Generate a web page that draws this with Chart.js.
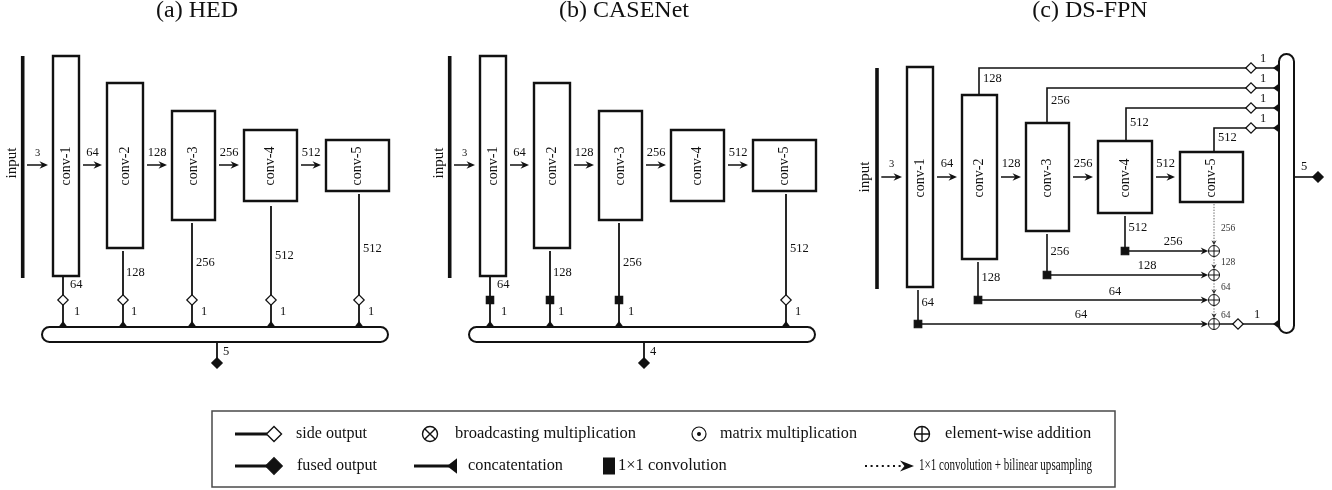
<!DOCTYPE html>
<html><head><meta charset="utf-8">
<script src="https://cdn.jsdelivr.net/npm/chart.js@4.4.1/dist/chart.umd.min.js"></script>
<style>html,body{margin:0;padding:0;background:#fff;overflow:hidden}canvas{display:block}</style>
</head><body>
<canvas id="c" width="1332" height="490"></canvas>
<script>
/* ================= DATA ================= */
const titles = ['(a) HED', '(b) CASENet', '(c) DS-FPN'];
const inputLabel = 'input';
const layerNames = ['conv-1', 'conv-2', 'conv-3', 'conv-4', 'conv-5'];
const inputChannels = 3;
const convChannels = [64, 128, 256, 512, 512];
const sideOutChannels = [1, 1, 1, 1, 1];
// HED
const hedSideLayers = [0, 1, 2, 3, 4];
const hedSideKinds = ['side', 'side', 'side', 'side', 'side'];
const hedSideChannels = [64, 128, 256, 512, 512];
const hedFusedChannels = 5;
// CASENet
const caseSideLayers = [0, 1, 2, 4];
const caseSideKinds = ['conv', 'conv', 'conv', 'side'];
const caseSideChannels = [64, 128, 256, 512];
const caseFusedChannels = 4;
// DS-FPN
const fpnTopChannels = [128, 256, 512, 512];     // conv-2 .. conv-5 side branches
const fpnLateralIn = [64, 128, 256, 512];        // conv-1 .. conv-4 lateral inputs
const fpnLateralOut = [64, 64, 128, 256];        // after 1x1 conv
const fpnUpChannels = [256, 128, 64, 64];        // top-down upsampling path
const fpnBottomOut = 1;
const fpnFusedChannels = 5;
// legend
const legendLabels = ['side output', 'broadcasting multiplication', 'matrix multiplication', 'element-wise addition',
                      'fused output', 'concatentation', '1×1 convolution', '1×1 convolution + bilinear upsampling'];

/* ================= LAYOUT ================= */
const W = 1332, H = 490;
const FONT = '"Liberation Serif","Times New Roman",serif';
const INK = '#111';

const HED = {
  offsets: [0, 427],
  titleX: 197, titleY: 17, titleSize: 24,
  inputX: 22.7, inputY: [56, 278], inputTextX: 12,
  arrowY: 165, arrowLabelY: 153,
  boxes: [[53, 56, 79, 276], [107, 83, 143, 248], [172, 111, 215, 220], [244, 130, 297, 201], [326, 140, 389, 191]],
  sideX: [63, 123, 192, 271, 359],
  sideTop: [276, 251, 223, 206, 194],
  sideLabelY: [285, 273, 263, 256, 249],
  sideLabelDX: [7, 3, 4, 4, 4],
  markerY: 300,
  oneDX: [14, 11, 12, 12, 12], oneY: 312,
  bar: [42, 327, 388, 342],
  outX: 217, outY: 363, outLabelDX: 6, outLabelY: 352
};

const FPN = {
  titleX: 1090, titleY: 17,
  inputX: 877, inputY: [68, 289], inputTextX: 865,
  arrowY: 177, arrowLabelY: 164,
  boxes: [[907, 67, 933, 287], [962, 95, 997, 259], [1026, 123, 1069, 231], [1098, 141, 1152, 213], [1180, 152, 1243, 202]],
  topX: [979, 1047, 1126, 1214],
  topY: [68, 88, 108, 128],
  topLabelY: [79, 101, 123, 138],
  diamondX: 1251, oneX: 1263, oneDY: -9,
  bar: [1279, 54, 1294, 333],
  botX: [918, 978, 1047, 1125],
  botY: [324, 300, 275, 251],
  botLabelY: [303, 278, 252, 228],
  latLabelX: [1081, 1115, 1147, 1173],
  latLabelY: [315, 292, 266, 242],
  plusX: 1214, plusR: 5.5,
  upLabelX: 1221, upLabelY: [228, 262, 287, 315],
  fuseDiamondX: 1238, fuseOneX: 1257, fuseOneY: 315,
  outX: [1294, 1318], outLabelX: 1304, outLabelY: 167
};

const LEG = {
  box: [212, 411, 1115, 487],
  rows: [434, 466],
  textX: [296, 455, 720, 945, 297, 468, 618, 919],
  textW: [71, 182, 137, 147, 80, 95, 117, 173],
  textRow: [0, 0, 0, 0, 1, 1, 1, 1],
  lineX: [235, 267], diamondX: 274,
  otimesX: 430, odotX: 699, oplusX: 922,
  concatX: [414, 457], squareX: [603, 615], squareY: [457.5, 474.5],
  dotX: [865, 902], dotHeadX: 914
};

/* ================= BUILD ================= */
const wires = [], heads = [], concats = [], texts = [], boxes = [], bars = [];
const openDiamonds = [], fullDiamonds = [], squares = [], circles = [], crosses = [], crossRots = [], dots = [];

function T(s, x, y, size, align, extra) { texts.push(Object.assign({ s: String(s), x, y, size, align: align || 'center' }, extra || {})); }

function buildHedLike(dx, title, sideLayers, sideKinds, sideCh, fused) {
  const g = HED;
  T(title, g.titleX + dx, g.titleY, g.titleSize, 'center', { base: 'alphabetic' });
  wires.push({ pts: [[g.inputX + dx, g.inputY[0]], [g.inputX + dx, g.inputY[1]]], w: 3.6 });
  T(inputLabel, g.inputTextX + dx, g.arrowY - 2, 15, 'center', { rot: true });
  g.boxes.forEach((b, i) => {
    boxes.push([b[0] + dx, b[1], b[2] + dx, b[3]]);
    T(layerNames[i], (b[0] + b[2]) / 2 + dx, g.arrowY + 1, 14, 'center', { rot: true });
    const x0 = (i === 0 ? g.inputX + 4.3 : g.boxes[i - 1][2] + 4) + dx;
    const x1 = b[0] - 5 + dx;
    wires.push({ pts: [[x0, g.arrowY], [x1 - 4, g.arrowY]], w: 1.5 });
    heads.push({ x: x1, y: g.arrowY, dx: 1, dy: 0, len: 8.5, half: 3.8 });
    const ch = i === 0 ? inputChannels : convChannels[i - 1];
    T(ch, (x0 + x1) / 2, g.arrowLabelY, i === 0 ? 10.5 : 12.5);
  });
  sideLayers.forEach((li, k) => {
    const x = g.sideX[li] + dx;
    wires.push({ pts: [[x, g.sideTop[li]], [x, g.bar[1]]], w: 1.8 });
    if (sideKinds[k] === 'conv') squares.push({ x, y: g.markerY, r: 5.2 });
    else openDiamonds.push({ x, y: g.markerY, r: 5.2 });
    T(sideCh[k], x + g.sideLabelDX[li], g.sideLabelY[li], 12.5, 'left');
    T(sideOutChannels[li], x + g.oneDX[li], g.oneY, 12.5);
    concats.push({ x, y: g.bar[1], dx: 0, dy: -1, depth: 6, half: 4.5 });
  });
  bars.push([g.bar[0] + dx, g.bar[1], g.bar[2] + dx, g.bar[3]]);
  wires.push({ pts: [[g.outX + dx, g.bar[3]], [g.outX + dx, g.outY]], w: 1.8 });
  fullDiamonds.push({ x: g.outX + dx, y: g.outY, r: 5.2 });
  T(fused, g.outX + dx + g.outLabelDX, g.outLabelY, 12.5, 'left');
}

buildHedLike(HED.offsets[0], titles[0], hedSideLayers, hedSideKinds, hedSideChannels, hedFusedChannels);
buildHedLike(HED.offsets[1], titles[1], caseSideLayers, caseSideKinds, caseSideChannels, caseFusedChannels);

(function buildFpn() {
  const g = FPN;
  T(titles[2], g.titleX, g.titleY, 24, 'center', { base: 'alphabetic' });
  wires.push({ pts: [[g.inputX, g.inputY[0]], [g.inputX, g.inputY[1]]], w: 3.6 });
  T(inputLabel, g.inputTextX, g.arrowY, 15, 'center', { rot: true });
  g.boxes.forEach((b, i) => {
    boxes.push(b);
    T(layerNames[i], (b[0] + b[2]) / 2, g.arrowY + 1, 14, 'center', { rot: true });
    const x0 = i === 0 ? g.inputX + 4.3 : g.boxes[i - 1][2] + 4;
    const x1 = b[0] - 5;
    wires.push({ pts: [[x0, g.arrowY], [x1 - 4, g.arrowY]], w: 1.5 });
    heads.push({ x: x1, y: g.arrowY, dx: 1, dy: 0, len: 8.5, half: 3.8 });
    const ch = i === 0 ? inputChannels : convChannels[i - 1];
    T(ch, (x0 + x1) / 2, g.arrowLabelY, i === 0 ? 10.5 : 12.5);
  });
  // top side-output branches (conv-2 .. conv-5)
  g.topX.forEach((x, k) => {
    const b = g.boxes[k + 1], y = g.topY[k];
    wires.push({ pts: [[x, b[1]], [x, y], [g.bar[0], y]], w: 1.6 });
    openDiamonds.push({ x: g.diamondX, y, r: 5.2 });
    T(fpnTopChannels[k], x + 4, g.topLabelY[k], 12.5, 'left');
    T(sideOutChannels[k + 1], g.oneX, y + g.oneDY, 12.5);
    concats.push({ x: g.bar[0], y, dx: -1, dy: 0, depth: 6, half: 4.5 });
  });
  // lateral 1x1 conv branches (conv-1 .. conv-4)
  g.botX.forEach((x, k) => {
    const b = g.boxes[k], y = g.botY[k];
    const tip = g.plusX - g.plusR - 0.3;
    wires.push({ pts: [[x, b[3] + 3], [x, y], [tip - 4, y]], w: 1.6 });
    heads.push({ x: tip, y, dx: 1, dy: 0, len: 7.5, half: 3.4 });
    squares.push({ x, y, r: 5.3 });
    T(fpnLateralIn[k], x + 3.5, g.botLabelY[k], 12.5, 'left');
    T(fpnLateralOut[k], g.latLabelX[k], g.latLabelY[k], 12.5);
    circles.push({ x: g.plusX, y, r: g.plusR, bw: 1 });
    crosses.push({ x: g.plusX, y, r: g.plusR, bw: 1 });
  });
  // top-down dotted upsampling path
  const plusYs = g.botY.slice().sort((a, b) => a - b);
  let yStart = g.boxes[4][3] + 2;
  plusYs.forEach((py, i) => {
    const tip = py - g.plusR - 0.3;
    wires.push({ pts: [[g.plusX, yStart], [g.plusX, tip - 3]], w: 1, dash: [1.4, 1.4], color: '#666' });
    heads.push({ x: g.plusX, y: tip, dx: 0, dy: 1, len: 5, half: 2.6, color: '#333' });
    T(fpnUpChannels[i], g.upLabelX, g.upLabelY[i], 9.5, 'left', { color: '#333' });
    yStart = py + g.plusR;
  });
  // fused bottom
  const lastY = plusYs[plusYs.length - 1];
  wires.push({ pts: [[g.plusX + g.plusR, lastY], [g.bar[0], lastY]], w: 1.6 });
  openDiamonds.push({ x: g.fuseDiamondX, y: lastY, r: 5.2 });
  T(fpnBottomOut, g.fuseOneX, g.fuseOneY, 12.5);
  concats.push({ x: g.bar[0], y: lastY, dx: -1, dy: 0, depth: 6, half: 4.5 });
  bars.push(g.bar);
  wires.push({ pts: [[g.outX[0], g.arrowY], [g.outX[1], g.arrowY]], w: 1.6 });
  fullDiamonds.push({ x: g.outX[1], y: g.arrowY, r: 5.2 });
  T(fpnFusedChannels, g.outLabelX, g.outLabelY, 12.5);
})();

(function buildLegend() {
  const g = LEG, r0 = g.rows[0], r1 = g.rows[1];
  legendLabels.forEach((s, i) => T(s, g.textX[i], g.rows[g.textRow[i]], 16.5, 'left', { maxW: g.textW[i] }));
  wires.push({ pts: [[g.lineX[0], r0], [g.lineX[1], r0]], w: 3 });
  openDiamonds.push({ x: g.diamondX, y: r0, r: 7.5, bw: 1.4 });
  wires.push({ pts: [[g.lineX[0], r1], [g.lineX[1], r1]], w: 3 });
  fullDiamonds.push({ x: g.diamondX, y: r1, r: 8.3 });
  circles.push({ x: g.otimesX, y: r0, r: 7.5, bw: 1.4 });
  crossRots.push({ x: g.otimesX, y: r0, r: 7.5, bw: 1.4 });
  circles.push({ x: g.odotX, y: r0, r: 7, bw: 1.2 });
  dots.push({ x: g.odotX, y: r0, r: 1.4 });
  circles.push({ x: g.oplusX, y: r0, r: 7.5, bw: 1.4 });
  crosses.push({ x: g.oplusX, y: r0, r: 7.5, bw: 1.4 });
  wires.push({ pts: [[g.concatX[0], r1], [g.concatX[1] - 8, r1]], w: 3 });
  concats.push({ x: g.concatX[1], y: r1, dx: -1, dy: 0, depth: 10, half: 7.8 });
  wires.push({ pts: [[g.dotX[0], r1], [g.dotX[1], r1]], w: 2.2, dash: [2, 3.6] });
  heads.push({ x: g.dotHeadX, y: r1, dx: 1, dy: 0, len: 14, half: 5.5 });
})();

/* ================= CHART ================= */
function lineDS(w) {
  return {
    type: 'scatter', data: w.pts.map(p => ({ x: p[0], y: p[1] })), showLine: true,
    borderColor: w.color || INK, borderWidth: w.w, borderDash: w.dash || [],
    borderCapStyle: 'butt', borderJoinStyle: 'miter', tension: 0, fill: false,
    pointRadius: 0, pointHoverRadius: 0, order: 10, clip: false
  };
}
function markerDS(list, style, bg, border, order) {
  return {
    type: 'scatter', data: list.map(p => ({ x: p.x, y: p.y })), showLine: false,
    pointStyle: style, pointRadius: list.map(p => p.r), pointHoverRadius: list.map(p => p.r),
    pointBackgroundColor: bg, pointBorderColor: border, pointBorderWidth: list.map(p => p.bw || 1.2),
    order, clip: false
  };
}
const datasets = [
  ...wires.map(lineDS),
  markerDS(circles, 'circle', '#fff', INK, 4),
  markerDS(crosses, 'cross', INK, INK, 3),
  markerDS(crossRots, 'crossRot', INK, INK, 3),
  markerDS(dots, 'circle', INK, INK, 3),
  markerDS(openDiamonds, 'rectRot', '#fff', INK, 2),
  markerDS(fullDiamonds, 'rectRot', INK, INK, 2),
  markerDS(squares, 'rect', INK, INK, 2)
];

const diagramPlugin = {
  id: 'diagram',
  beforeDatasetsDraw(chart) {
    const ctx = chart.ctx, X = v => chart.scales.x.getPixelForValue(v), Y = v => chart.scales.y.getPixelForValue(v);
    const b = LEG.box;
    ctx.save();
    ctx.strokeStyle = '#4a4a4a'; ctx.lineWidth = 1.5;
    ctx.strokeRect(X(b[0]), Y(b[1]), X(b[2]) - X(b[0]), Y(b[3]) - Y(b[1]));
    ctx.strokeStyle = INK; ctx.fillStyle = '#fff'; ctx.lineWidth = 2;
    bars.forEach(r => {
      const x0 = X(r[0]), y0 = Y(r[1]), x1 = X(r[2]), y1 = Y(r[3]);
      const rad = Math.min(x1 - x0, y1 - y0) / 2;
      ctx.beginPath();
      ctx.moveTo(x0 + rad, y0); ctx.lineTo(x1 - rad, y0); ctx.arcTo(x1, y0, x1, y0 + rad, rad);
      ctx.lineTo(x1, y1 - rad); ctx.arcTo(x1, y1, x1 - rad, y1, rad);
      ctx.lineTo(x0 + rad, y1); ctx.arcTo(x0, y1, x0, y1 - rad, rad);
      ctx.lineTo(x0, y0 + rad); ctx.arcTo(x0, y0, x0 + rad, y0, rad);
      ctx.closePath(); ctx.fill(); ctx.stroke();
    });
    ctx.restore();
  },
  afterDatasetsDraw(chart) {
    const ctx = chart.ctx, X = v => chart.scales.x.getPixelForValue(v), Y = v => chart.scales.y.getPixelForValue(v);
    const sx = X(1) - X(0);
    ctx.save();
    ctx.strokeStyle = INK; ctx.fillStyle = '#fff'; ctx.lineWidth = 2.4;
    boxes.forEach(b => {
      ctx.beginPath(); ctx.rect(X(b[0]), Y(b[1]), X(b[2]) - X(b[0]), Y(b[3]) - Y(b[1]));
      ctx.fill(); ctx.stroke();
    });
    heads.forEach(h => {
      const x = X(h.x), y = Y(h.y), px = -h.dy, py = h.dx;
      const bx = x - h.dx * h.len, by = y - h.dy * h.len;
      const nx = x - h.dx * h.len * 0.68, ny = y - h.dy * h.len * 0.68;
      ctx.fillStyle = h.color || INK;
      ctx.beginPath();
      ctx.moveTo(x, y); ctx.lineTo(bx + px * h.half, by + py * h.half);
      ctx.lineTo(nx, ny); ctx.lineTo(bx - px * h.half, by - py * h.half);
      ctx.closePath(); ctx.fill();
    });
    ctx.fillStyle = INK;
    concats.forEach(c => {
      const x = X(c.x), y = Y(c.y), px = -c.dy, py = c.dx;
      ctx.beginPath();
      ctx.moveTo(x + c.dx * c.depth, y + c.dy * c.depth);
      ctx.lineTo(x + px * c.half, y + py * c.half);
      ctx.lineTo(x - px * c.half, y - py * c.half);
      ctx.closePath(); ctx.fill();
    });
    ctx.fillRect(X(LEG.squareX[0]), Y(LEG.squareY[0]), X(LEG.squareX[1]) - X(LEG.squareX[0]), Y(LEG.squareY[1]) - Y(LEG.squareY[0]));
    texts.forEach(t => {
      ctx.save();
      ctx.fillStyle = t.color || INK;
      ctx.font = t.size + 'px ' + FONT;
      ctx.textAlign = t.align;
      ctx.textBaseline = t.base || 'middle';
      const px = X(t.x), py = Y(t.y);
      if (t.rot) { ctx.translate(px, py); ctx.rotate(-Math.PI / 2); ctx.fillText(t.s, 0, 0); }
      else if (t.maxW) ctx.fillText(t.s, px, py, t.maxW * sx);
      else ctx.fillText(t.s, px, py);
      ctx.restore();
    });
    ctx.restore();
  }
};

const chart = new Chart(document.getElementById('c'), {
  type: 'scatter',
  data: { datasets },
  options: {
    responsive: false, animation: false, events: [],
    layout: { padding: 0 },
    plugins: { legend: { display: false }, tooltip: { enabled: false } },
    scales: {
      x: { type: 'linear', min: 0, max: W, display: false },
      y: { type: 'linear', min: 0, max: H, reverse: true, display: false }
    }
  },
  plugins: [diagramPlugin]
});
// The plotting area is inset by the marker overflow; set the scale ranges so that
// one diagram unit maps to one canvas pixel.
const area = chart.chartArea;
chart.options.scales.x.min = area.left;
chart.options.scales.x.max = area.right;
chart.options.scales.y.min = area.top;
chart.options.scales.y.max = area.bottom;
chart.update();
</script>
</body></html>
